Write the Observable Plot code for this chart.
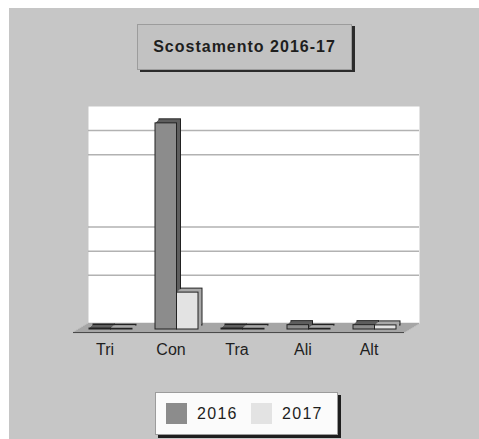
<!DOCTYPE html>
<html>
<head>
<meta charset="utf-8">
<script src="https://cdn.jsdelivr.net/npm/d3@7"></script>
<script src="https://cdn.jsdelivr.net/npm/@observablehq/plot@0.6"></script>
<style>
html,body{margin:0;padding:0;background:#fff;width:479px;height:439px;overflow:hidden;font-family:"Liberation Sans",Arial,sans-serif}
#panel{position:absolute;left:9px;top:8px;width:470px;height:431px;background:#c6c6c6}
#chart{position:absolute;left:0;top:0}
#chart svg{background:transparent}
#title{position:absolute;left:137px;top:24px;width:213px;height:44px;background:#c2c2c2;border:1px solid #9c9c9c;box-shadow:3px 2px 0 #2b2b2b;display:flex;align-items:center;justify-content:center;font-weight:bold;font-size:16px;letter-spacing:1px;color:#1e1e1e}
#legend{position:absolute;left:155px;top:392px;width:181px;height:41px;background:#fbfbfb;border:1px solid #9c9c9c;box-shadow:3px 3px 0 #1e1e1e}
.sw{position:absolute;width:21px;height:21px;top:10px}
.lt{position:absolute;top:10px;font-size:16px;line-height:21px;letter-spacing:1.3px;color:#1e1e1e}
</style>
</head>
<body>
<div id="panel"></div>
<div id="chart"></div>
<div id="title">Scostamento 2016-17</div>
<div id="legend"></div>
<script>
const titleText = "Scostamento 2016-17";
const categories = ["Tri", "Con", "Tra", "Ali", "Alt"];
const years = ["2016", "2017"];
const values2016 = [4, 855, 4, 18, 18];
const values2017 = [3, 153, 3, 3, 17];
const gridTicks = [200, 300, 400, 700, 800];
const frontColors = ["#8c8c8c", "#e3e3e3"];
const sideColors = ["#5f5f5f", "#a9a9a9"];

const rows = [];
categories.forEach((c, i) => {
  rows.push({category: c, year: years[0], value: values2016[i]});
  rows.push({category: c, year: years[1], value: values2017[i]});
});

const half = 21.5;
function barMarks(yi) {
  const data = rows.filter(d => d.year === years[yi]);
  const inset = yi === 0 ? {insetRight: half} : {insetLeft: half};
  const marks = [];
  marks.push(Plot.barY(data, {x: "category", y: "value", ...inset, fill: sideColors[yi], stroke: "#222", strokeWidth: 1, dx: -7, dy: 2}));
  for (let k = 1; k <= 3; k++) {
    marks.push(Plot.barY(data, {x: "category", y: "value", ...inset, fill: sideColors[yi], dx: -7 - k, dy: 2 + k}));
  }
  marks.push(Plot.barY(data, {x: "category", y: "value", ...inset, fill: frontColors[yi], stroke: "#222", strokeWidth: 1, dx: -11, dy: 6}));
  return marks;
}

const floorMarks = [];
for (let k = 0; k <= 9; k++) {
  floorMarks.push(Plot.ruleY([0], {stroke: "#a6a6a6", strokeWidth: 1.5, dx: -k * 15 / 9, dy: k}));
}
floorMarks.push(Plot.ruleY([0], {stroke: "#4a4a4a", strokeWidth: 1.2, dx: -15, dy: 9}));

const chart = Plot.plot({
  width: 479,
  height: 439,
  marginLeft: 88,
  marginRight: 60,
  marginTop: 106,
  marginBottom: 116,
  x: {domain: categories, type: "band", paddingInner: 0.35, paddingOuter: 0.175, axis: null},
  y: {domain: [0, 900], axis: null},
  marks: [
    Plot.frame({fill: "white", stroke: null}),
    Plot.ruleY(gridTicks, {stroke: "#b2b2b2", strokeWidth: 1.5}),
    ...floorMarks,
    ...barMarks(0),
    ...barMarks(1),
    Plot.text(categories, {x: d => d, y: 0, dx: -17, dy: 26, text: d => d, fontSize: 16, fill: "#1e1e1e", textAnchor: "middle", lineAnchor: "middle", fontFamily: "Liberation Sans", letterSpacing: 1})
  ]
});
document.getElementById("chart").appendChild(chart);

const legend = document.getElementById("legend");
const swX = [10, 95];
years.forEach((y, i) => {
  const s = document.createElement("div");
  s.className = "sw";
  s.style.left = swX[i] + "px";
  s.style.background = frontColors[i];
  legend.appendChild(s);
  const t = document.createElement("div");
  t.className = "lt";
  t.style.left = (swX[i] + 31) + "px";
  t.textContent = y;
  legend.appendChild(t);
});
</script>
</body>
</html>
